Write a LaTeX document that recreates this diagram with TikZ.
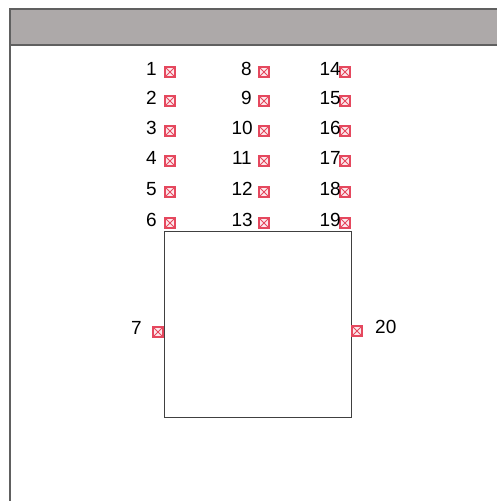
\documentclass[tikz,border=0pt]{standalone}
\usepackage{fontspec}
\setmainfont{Liberation Sans}
\definecolor{hdrgray}{HTML}{ADA9A9}
\definecolor{framegray}{HTML}{606060}
\definecolor{mkred}{HTML}{E5485E}
\begin{document}
\begin{tikzpicture}[x=1pt,y=-1pt,
  mk/.style={draw=mkred,line width=1.3pt,fill=mkred!12,inner sep=0pt,minimum size=10pt,
    path picture={\draw[mkred,line width=1pt] (path picture bounding box.north west)--(path picture bounding box.south east)
      (path picture bounding box.north east)--(path picture bounding box.south west);}},
  lbl/.style={inner sep=0pt,anchor=base east,font=\fontsize{19}{21}\selectfont,text=black},
  lblw/.style={inner sep=0pt,anchor=base west,font=\fontsize{19}{21}\selectfont,text=black}]
\useasboundingbox (0,0) rectangle (496,501);
% frame and header
\fill[hdrgray] (10,9) rectangle (497,45);
\draw[framegray,line width=1.4pt] (497,9) -- (10,9) -- (10,502);
\draw[framegray,line width=1.4pt] (10,45) -- (497,45);
% box
\node[draw=black!75,line width=1pt,minimum width=187pt,minimum height=186pt,inner sep=0pt,anchor=north west] (box) at (164,231) {};
% markers and labels
\foreach \n/\x/\y/\lx in {1/170/72/157,2/170/101/157,3/170/131/157,4/170/161/157,5/170/192/157,6/170/223/157,
  8/264/72/252,9/264/101/252,10/264/131/253,11/264/161/252,12/264/192/253,13/264/223/253,
  14/345/72/341,15/345/101/341,16/345/131/341,17/345/161/341,18/345/192/341,19/345/223/341}{
  \node[mk] (m\n) at (\x,\y) {};
  \node[lbl] (l\n) at (\lx,\y+3.5) {\n};
}
\node[mk] (m7) at (158,332) {};
\node[lbl] (l7) at (142,334) {7};
\node[mk] (m20) at (357,331) {};
\node[lblw] (l20) at (375,333) {20};
\end{tikzpicture}
\end{document}
